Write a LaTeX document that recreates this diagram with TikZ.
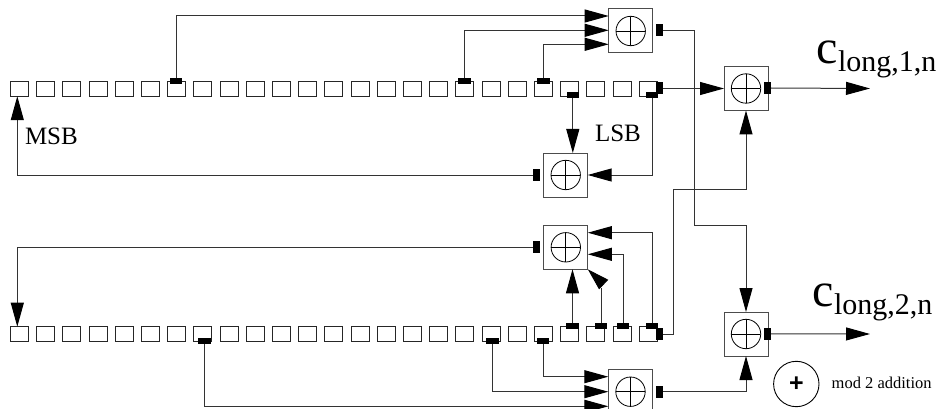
\documentclass[tikz,border=0pt]{standalone}
\usepackage{fontspec}
\setmainfont{Liberation Serif}
\newfontfamily\plusfont{Liberation Sans}
\usetikzlibrary{arrows.meta}
\tikzset{
  x=1pt,y=-1pt,
  regbox/.style={draw=black!85,line width=0.9pt,rectangle,minimum width=18pt,minimum height=15pt,inner sep=0pt,outer sep=0pt},
  tapH/.style={fill=black,rectangle,minimum width=12.5pt,minimum height=6.2pt,inner sep=0pt,outer sep=0pt},
  tapV/.style={fill=black,rectangle,minimum width=7pt,minimum height=12pt,inner sep=0pt,outer sep=0pt},
  adderbox/.style={draw=black!70,line width=1pt,rectangle,minimum size=44pt,inner sep=0pt,outer sep=0pt},
  xorcirc/.style={draw=black,line width=0.8pt,circle,minimum size=29.4pt,inner sep=0pt,outer sep=0pt,
    path picture={\draw[line width=0.8pt] (path picture bounding box.north)--(path picture bounding box.south)
      (path picture bounding box.west)--(path picture bounding box.east);}},
  wire/.style={draw=black!80,line width=1pt},
  arr/.style={wire,-{Triangle[length=24pt,width=13pt,fill=black,color=black]}},
  lab/.style={inner sep=0pt,outer sep=0pt,anchor=base west,font=\fontsize{25}{25}\selectfont},
}
\newcommand{\clabel}[1]{{\fontsize{48}{48}\selectfont c}\raisebox{-8pt}{\fontsize{30}{30}\selectfont long,#1,n}}
\begin{document}
\begin{tikzpicture}
\clip (0,0) rectangle (942,409);
% registers
\foreach \i in {0,...,24}{
  \node[regbox] (u\i) at ({19.5+26.2*\i},88.7) {};
  \node[regbox] (d\i) at ({19.5+26.2*\i},334.2) {};
}
% adders
\node[adderbox] (A) at (630.7,31) {}; \node[xorcirc] (Ac) at (A) {};
\node[adderbox] (B) at (565.7,175) {}; \node[xorcirc] (Bc) at (B) {};
\node[adderbox] (C) at (746,88.5) {}; \node[xorcirc] (Cc) at (C) {};
\node[adderbox] (D) at (746,334) {}; \node[xorcirc] (Dc) at (D) {};
\node[adderbox] (E) at (565.8,247.3) {}; \node[xorcirc] (Ec) at (E) {};
\node[adderbox] (F) at (630.5,391.7) {}; \node[xorcirc] (Fc) at (F) {};
% taps, upper register
\node[tapH] (ut6) at (176,80.7) {};
\node[tapH] (ut17) at (464.3,80.7) {};
\node[tapH] (ut20) at (543.6,80.7) {};
\node[tapH] (ub21) at (572.8,95.2) {};
\node[tapH] (ub24) at (652.2,95.2) {};
\node[tapV] (ur) at (659.5,88.5) {};
% taps, lower register
\node[tapH] (db7) at (204.7,341) {};
\node[tapH] (db18) at (492.5,341) {};
\node[tapH] (db20) at (543.2,341) {};
\node[tapH] (dt21) at (572.5,326.2) {};
\node[tapH] (dt22) at (601.2,326.2) {};
\node[tapH] (dt23) at (623,326.2) {};
\node[tapH] (dt24) at (652,326.2) {};
\node[tapV] (dr) at (659.5,334) {};
% output taps of adders
\node[tapV] (Ao) at (659.5,30.5) {};
\node[tapV] (Bo) at (536.5,175) {};
\node[tapV] (Co) at (767.5,88) {};
\node[tapV] (Do) at (767.5,333.8) {};
\node[tapV] (Eo) at (536.5,247.3) {};
\node[tapV] (Fo) at (659.5,391.5) {};
% free ends
\coordinate (A1) at (608.7,16);
\coordinate (A2) at (608.7,30.3);
\coordinate (A3) at (608.7,44.3);
\coordinate (F1) at (608.3,376.7);
\coordinate (F2) at (608.3,391.7);
\coordinate (F3) at (608.3,406.3);
\coordinate (E1) at (587.8,232.7);
\coordinate (E2) at (587.8,254.3);
\coordinate (Eb) at (601.2,288);
\coordinate (Ebase) at (603.8,284.7);
\coordinate (O1) at (870,88.5);
\coordinate (O2) at (870,334);
% connectors into A
\draw[arr] (ut6.north) |- (A1);
\draw[arr] (ut17.north) |- (A2);
\draw[arr] (ut20.north) |- (A3);
% connectors into B and back to the MSB
\draw[arr] (ub21.south) -- (ub21.south|-B.north);
\draw[arr] (ub24.south) |- (B.east);
\draw[arr] (Bo.west) -| (u0.south-|17.3,0);
% connectors into C
\draw[arr] (ur.east) -- (C.west);
\draw[arr] (dr.east) -- (673.3,334) -- (673.3,189.3) -| (C.south);
\draw[arr] (Co.east) -- (O1);
% connectors out of A to D
\draw[arr] (Ao.east) -- (694.8,30.5) -- (694.8,225.3) -| (D.north);
% connectors from lower register into E
\draw[arr] (dt21.north) -- (dt21.north|-E.south);
\draw[wire] (dt22.north) -- (Eb);
\draw[arr,-{Triangle[length=22pt,width=13pt,fill=black,color=black]}] (Ebase) -- (E.south east);
\draw[arr] (dt23.north) |- (E2);
\draw[arr] (dt24.north) |- (E1);
\draw[arr] (Eo.west) -| (d0.north-|17.3,0);
% connectors into F
\draw[arr] (db20.south) |- (F1);
\draw[arr] (db18.south) |- (F2);
\draw[arr] (db7.south) |- (F3);
% D
\draw[arr] (Fo.east) -| (D.south);
\draw[arr] (Do.east) -- (O2);
% labels
\node[lab] (msb) at (25,145) {MSB};
\node[lab] (lsb) at (595,141.7) {LSB};
\node[lab] (c1) at (816.7,63.3) {\clabel{1}};
\node[lab] (c2) at (812.8,306.7) {\clabel{2}};
\node[draw=black,line width=0.9pt,circle,minimum size=45.4pt,inner sep=0pt,font=\plusfont\bfseries\fontsize{25}{25}\selectfont] (plus) at (796.3,384) {+};
\node[lab,font=\fontsize{16.5}{16.5}\selectfont] (mod) at (831.7,388) {mod 2 addition};
\end{tikzpicture}
\end{document}
